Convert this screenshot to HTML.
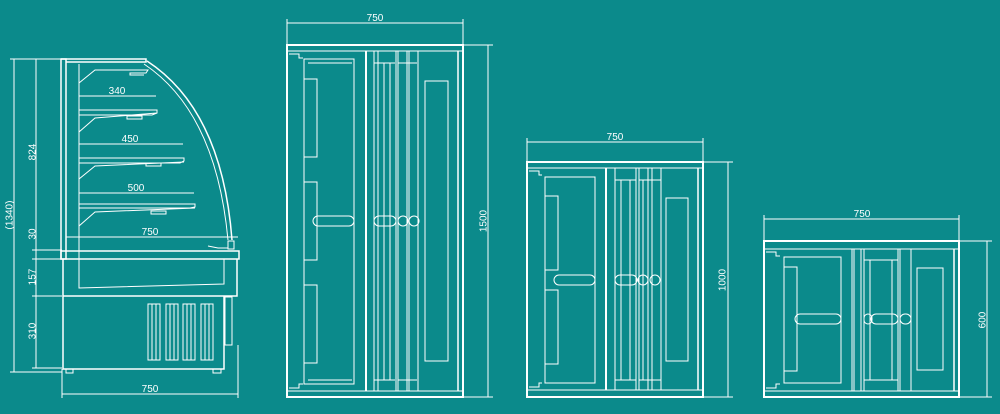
<!DOCTYPE html>
<html><head><meta charset="utf-8"><style>
html,body{margin:0;padding:0;background:#0b8a8b;}
svg{display:block}
text{font-family:"Liberation Sans",sans-serif;font-size:10px;fill:#fff}
</style></head><body>
<svg width="1000" height="414" viewBox="0 0 1000 414" xmlns="http://www.w3.org/2000/svg">
<rect width="1000" height="414" fill="#0b8a8b"/>
<g fill="none" stroke="#fff" stroke-width="1">
<!-- LEFT SIDE VIEW -->
<line x1="14" y1="59" x2="14" y2="372"/><line x1="10" y1="59" x2="62" y2="59"/><line x1="10" y1="372" x2="62" y2="372"/>
<line x1="36" y1="59" x2="36" y2="368"/>
<line x1="32" y1="250" x2="62" y2="250"/><line x1="32" y1="259" x2="62" y2="259"/><line x1="32" y1="296" x2="62" y2="296"/><line x1="32" y1="368" x2="62" y2="368"/>
<rect x="61" y="59" width="5" height="200" stroke-width="1.5"/>
<path d="M61 59 H146 V62 H66" stroke-width="1.5"/>
<path d="M147 61 Q222 110 232 240" stroke-width="1.5"/><path d="M144 64 Q216 112 228 240"/>
<line x1="79" y1="64" x2="79" y2="288"/>
<!-- shelves -->
<path d="M79 83 L95 70 H148 L146 73 H130 V75 H144"/>
<line x1="79" y1="96" x2="156" y2="96"/>
<path d="M79 110 H157 V113 L152 115 H79 M79 132 L95 118 L157 113"/><rect x="127" y="116" width="15" height="3"/>
<line x1="79" y1="144" x2="183" y2="144"/>
<path d="M79 158 H184 V161 L180 163 H79 M79 179 L95 166 L184 162"/><rect x="146" y="163" width="15" height="3"/>
<line x1="79" y1="193" x2="194" y2="193"/>
<path d="M79 204 H195 V207 L190 208 H79 M79 226 L95 212 L195 208"/><rect x="151" y="211" width="15" height="3"/>
<line x1="66" y1="237" x2="238" y2="237"/>
<!-- counter -->
<rect x="61" y="251" width="178" height="8" stroke-width="1.5"/>
<path d="M208 246 L218 248 L228 248"/><rect x="228" y="241" width="6" height="8"/>
<path d="M79 259 V288 Q150 286 224 284 V259"/>
<path d="M63 259 V369 H224 V296 M237 259 V296 H63" stroke-width="1.5"/>
<rect x="225" y="297" width="7" height="48"/>
<rect x="66" y="369" width="7" height="4"/><rect x="213" y="369" width="8" height="4"/>
<g stroke-width="1">
<rect x="148" y="304" width="12" height="56"/><rect x="166" y="304" width="12" height="56"/><rect x="183" y="304" width="12" height="56"/><rect x="201" y="304" width="12" height="56"/>
<path d="M152 304V360M156 304V360M170 304V360M174 304V360M187 304V360M191 304V360M205 304V360M209 304V360"/>
</g>
<line x1="62" y1="394" x2="238" y2="394"/><line x1="62" y1="369" x2="62" y2="398"/><line x1="238" y1="345" x2="238" y2="398"/>

<!-- VIEW 2 -->
<line x1="287" y1="23" x2="463" y2="23"/><line x1="287" y1="19" x2="287" y2="45"/><line x1="463" y1="19" x2="463" y2="45"/>
<line x1="488" y1="45" x2="488" y2="397"/><line x1="463" y1="45" x2="493" y2="45"/><line x1="463" y1="397" x2="493" y2="397"/>
<rect x="287" y="45" width="176" height="352" stroke-width="2"/>
<line x1="287" y1="51" x2="463" y2="51"/><line x1="287" y1="391" x2="463" y2="391"/>
<line x1="366" y1="51" x2="366" y2="391" stroke-width="2"/><line x1="458" y1="51" x2="458" y2="391" stroke-width="1.5"/>
<path d="M289 54 H299 V58 H303"/><path d="M289 388 H299 V384 H303"/>
<rect x="304" y="59" width="50" height="325"/><line x1="308" y1="63" x2="352" y2="63"/><line x1="308" y1="380" x2="352" y2="380"/>
<rect x="304" y="79" width="13" height="78"/><rect x="304" y="182" width="13" height="78"/><rect x="304" y="285" width="13" height="78"/>
<rect x="313" y="216" width="41" height="10" rx="5"/>
<path d="M374 51V391M378 51V391M384 63V380M390 63V380M396 51V391M398 51V391M407 51V391M409 51V391M418 51V391"/>
<path d="M374 63 H395 M374 380 H395 M398 63H417 M398 380H417"/>
<rect x="374" y="216" width="22" height="10" rx="5"/><rect x="398" y="216" width="10" height="10" rx="5"/><rect x="409" y="216" width="10" height="10" rx="5"/>
<rect x="425" y="81" width="23" height="280"/>

<!-- VIEW 3 -->
<line x1="527" y1="142" x2="703" y2="142"/><line x1="527" y1="138" x2="527" y2="162"/><line x1="703" y1="138" x2="703" y2="162"/>
<line x1="728" y1="162" x2="728" y2="397"/><line x1="703" y1="162" x2="733" y2="162"/><line x1="703" y1="397" x2="733" y2="397"/>
<rect x="527" y="162" width="176" height="235" stroke-width="2"/>
<line x1="527" y1="168" x2="703" y2="168"/><line x1="527" y1="390" x2="703" y2="390"/>
<line x1="606" y1="168" x2="606" y2="390" stroke-width="2"/><line x1="698" y1="168" x2="698" y2="390" stroke-width="1.5"/>
<path d="M529 171 H539 V175 H542"/><path d="M529 387 H539 V383 H542"/>
<rect x="545" y="177" width="50" height="206"/>
<rect x="545" y="196" width="13" height="74"/><rect x="545" y="290" width="13" height="74"/>
<rect x="554" y="275" width="41" height="10" rx="5"/>
<path d="M615 168V390M621 180V380M630 180V380M636 168V390M639 168V390M643 180V380M648 168V390M652 168V390M661 168V390"/>
<path d="M615 180 H636 M615 380 H636 M639 180H661 M639 380H661"/>
<rect x="615" y="275" width="22" height="10" rx="5"/><rect x="638" y="275" width="10" height="10" rx="5"/><rect x="650" y="275" width="10" height="10" rx="5"/>
<rect x="666" y="198" width="22" height="163"/>

<!-- VIEW 4 -->
<line x1="764" y1="219" x2="959" y2="219"/><line x1="764" y1="215" x2="764" y2="241"/><line x1="959" y1="215" x2="959" y2="241"/>
<line x1="987" y1="241" x2="987" y2="397"/><line x1="959" y1="241" x2="992" y2="241"/><line x1="959" y1="397" x2="992" y2="397"/>
<rect x="764" y="241" width="195" height="156" stroke-width="2"/>
<line x1="764" y1="249" x2="959" y2="249"/><line x1="764" y1="391" x2="959" y2="391"/>
<line x1="852" y1="249" x2="852" y2="391"/><line x1="854" y1="249" x2="854" y2="391"/><line x1="954" y1="249" x2="954" y2="391" stroke-width="1.5"/>
<path d="M766 252 H776 V256 H780"/><path d="M766 388 H776 V384 H780"/>
<rect x="784" y="257" width="57" height="126"/>
<rect x="784" y="267" width="13" height="104"/>
<rect x="795" y="314" width="46" height="10" rx="5"/>
<path d="M861 249V391M864 249V391M870 260V380M892 260V380M898 249V391M900 249V391M911 249V391"/>
<path d="M864 260 H898 M864 380 H898"/>
<rect x="864" y="314" width="8" height="10" rx="4"/><rect x="871" y="314" width="27" height="10" rx="5"/><rect x="900" y="314" width="11" height="10" rx="5"/>
<rect x="917" y="268" width="26" height="102"/>
</g>
<g>
<text x="10" y="215" transform="rotate(-90 10 215)" text-anchor="middle" dominant-baseline="middle">(1340)</text>
<text x="33" y="152" transform="rotate(-90 33 152)" text-anchor="middle" dominant-baseline="middle">824</text>
<text x="33" y="234" transform="rotate(-90 33 234)" text-anchor="middle" dominant-baseline="middle">30</text>
<text x="33" y="277" transform="rotate(-90 33 277)" text-anchor="middle" dominant-baseline="middle">157</text>
<text x="33" y="331" transform="rotate(-90 33 331)" text-anchor="middle" dominant-baseline="middle">310</text>
<text x="117" y="94" text-anchor="middle">340</text>
<text x="130" y="142" text-anchor="middle">450</text>
<text x="136" y="191" text-anchor="middle">500</text>
<text x="150" y="235" text-anchor="middle">750</text>
<text x="150" y="392" text-anchor="middle">750</text>
<text x="375" y="21" text-anchor="middle">750</text>
<text x="484" y="221" transform="rotate(-90 484 221)" text-anchor="middle" dominant-baseline="middle">1500</text>
<text x="615" y="140" text-anchor="middle">750</text>
<text x="723" y="280" transform="rotate(-90 723 280)" text-anchor="middle" dominant-baseline="middle">1000</text>
<text x="862" y="217" text-anchor="middle">750</text>
<text x="983" y="320" transform="rotate(-90 983 320)" text-anchor="middle" dominant-baseline="middle">600</text>
</g>
</svg>
</body></html>
